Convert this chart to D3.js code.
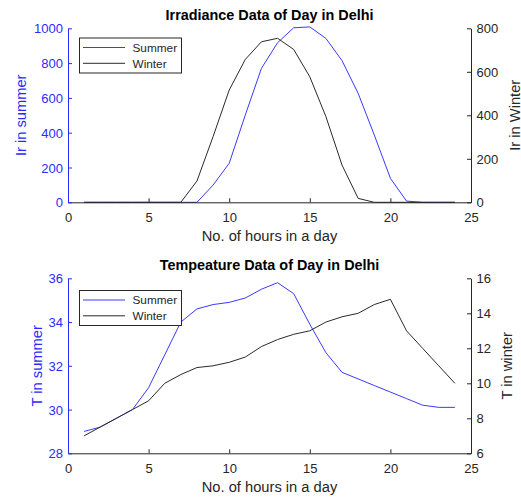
<!DOCTYPE html>
<html>
<head>
<meta charset="utf-8">
<script src="https://cdn.jsdelivr.net/npm/d3@7"></script>
<style>
  html, body { margin: 0; padding: 0; background: #fff; }
  svg { display: block; font-family: "Liberation Sans", Arial, Helvetica, sans-serif; }
</style>
</head>
<body>
<svg id="chart" width="521" height="498"></svg>
<script>
// Hour of day (1..24)
const hours = [1,2,3,4,5,6,7,8,9,10,11,12,13,14,15,16,17,18,19,20,21,22,23,24];

// Solar irradiance in Delhi (W/m²)
const irrSummer = [0,0,0,0,0,0,0,0,99,224,502,770,917,1003,1008,942,814,626,387,138,7,0,0,0];
const irrWinter = [0,0,0,0,0,0,0,98,302,516,657,738,754,703,577,394,171,18,0,0,0,0,0,0];

// Ambient temperature in Delhi (°C)
const tempSummer = [29,29.2,29.6,30,31,32.5,34,34.6,34.8,34.9,35.1,35.5,35.8,35.3,33.9,32.6,31.7,31.4,31.1,30.8,30.5,30.2,30.1,30.1];
const tempWinter = [7,7.5,8,8.5,9,10,10.5,10.9,11,11.2,11.5,12.1,12.5,12.8,13,13.5,13.8,14,14.5,14.8,13,12,11,10];

// Axis ticks
const xTicks = [0,5,10,15,20,25];
const irrSummerTicks = [0,200,400,600,800,1000];
const irrWinterTicks = [0,200,400,600,800];
const tempSummerTicks = [28,30,32,34,36];
const tempWinterTicks = [6,8,10,12,14,16];

const legendLabels = ["Summer", "Winter"];

const BLUE = "#2b2bff";
const LINE_BLUE = "#3a3aff";
const DARK = "#262626";
const LINE_DARK = "#2a2a2a";
const TICK_FONT = 13;
const LABEL_FONT = 14.7;

const svg = d3.select("#chart");
const fmt = d3.format("d");

function panel(cfg) {
  const g = svg.append("g");
  const x = d3.scaleLinear().domain([0, 25]).range([cfg.left, cfg.right]);
  const yL = d3.scaleLinear().domain(cfg.leftDomain).range([cfg.bottom, cfg.top]);
  const yR = d3.scaleLinear().domain(cfg.rightDomain).range([cfg.bottom, cfg.top]);

  // data lines
  const lineL = d3.line().x((d, i) => x(hours[i])).y(d => yL(d));
  const lineR = d3.line().x((d, i) => x(hours[i])).y(d => yR(d));
  g.append("path").datum(cfg.leftData).attr("d", lineL)
    .attr("fill", "none").attr("stroke", LINE_BLUE).attr("stroke-width", 1);
  g.append("path").datum(cfg.rightData).attr("d", lineR)
    .attr("fill", "none").attr("stroke", LINE_DARK).attr("stroke-width", 1);

  // bottom axis
  const xAxis = g.append("g").attr("transform", `translate(0,${cfg.bottom})`)
    .call(d3.axisBottom(x).tickValues(xTicks).tickFormat(fmt)
      .tickSizeInner(-4).tickSizeOuter(0).tickPadding(0));
  xAxis.select(".domain").attr("stroke", DARK);
  xAxis.selectAll(".tick line").attr("stroke", DARK);
  xAxis.selectAll(".tick text").attr("fill", DARK).attr("font-size", TICK_FONT)
    .attr("y", 20).attr("dy", 0);

  // left axis
  const lAxis = g.append("g").attr("transform", `translate(${cfg.left},0)`)
    .call(d3.axisLeft(yL).tickValues(cfg.leftTicks).tickFormat(fmt)
      .tickSizeInner(-4).tickSizeOuter(0).tickPadding(0));
  lAxis.select(".domain").attr("stroke", BLUE);
  lAxis.selectAll(".tick line").attr("stroke", BLUE);
  lAxis.selectAll(".tick text").attr("fill", BLUE).attr("font-size", TICK_FONT)
    .attr("x", -5).attr("dy", "0.36em");

  // right axis
  const rAxis = g.append("g").attr("transform", `translate(${cfg.right},0)`)
    .call(d3.axisRight(yR).tickValues(cfg.rightTicks).tickFormat(fmt)
      .tickSizeInner(-4).tickSizeOuter(0).tickPadding(0));
  rAxis.select(".domain").attr("stroke", DARK);
  rAxis.selectAll(".tick line").attr("stroke", DARK);
  rAxis.selectAll(".tick text").attr("fill", DARK).attr("font-size", TICK_FONT)
    .attr("x", 5.5).attr("dy", "0.36em");

  g.selectAll(".tick text").attr("font-family", null);
  g.selectAll(".domain, .tick line").attr("stroke-width", 1);

  // title
  g.append("text").attr("x", (cfg.left + cfg.right) / 2).attr("y", cfg.top - 8.5)
    .attr("text-anchor", "middle").attr("font-weight", "bold").attr("font-size", 14.4)
    .attr("fill", "#000").text(cfg.title);

  // x label
  g.append("text").attr("x", (cfg.left + cfg.right) / 2).attr("y", cfg.bottom + 39)
    .attr("text-anchor", "middle").attr("font-size", LABEL_FONT).attr("fill", DARK)
    .text("No. of hours in a day");

  const midY = (cfg.top + cfg.bottom) / 2;
  g.append("text").attr("transform", `translate(${cfg.leftLabelX},${midY}) rotate(-90)`)
    .attr("text-anchor", "middle").attr("font-size", LABEL_FONT).attr("fill", BLUE)
    .text(cfg.leftLabel);
  g.append("text").attr("transform", `translate(${cfg.rightLabelX},${midY}) rotate(-90)`)
    .attr("text-anchor", "middle").attr("font-size", LABEL_FONT).attr("fill", DARK)
    .text(cfg.rightLabel);

  // legend
  const lg = g.append("g");
  lg.append("rect").attr("x", 79.5).attr("y", cfg.legendTop + 0.5)
    .attr("width", 102).attr("height", 35)
    .attr("fill", "#fff").attr("stroke", DARK).attr("stroke-width", 1);
  const rows = [cfg.legendTop + 10, cfg.legendTop + 25.8];
  const colors = [LINE_BLUE, LINE_DARK];
  legendLabels.forEach((lab, i) => {
    lg.append("line").attr("x1", 83).attr("x2", 125).attr("y1", rows[i]).attr("y2", rows[i])
      .attr("stroke", colors[i]).attr("stroke-width", 1);
    lg.append("text").attr("x", 132.5).attr("y", rows[i]).attr("dy", "0.36em")
      .attr("font-size", 11.8).attr("fill", DARK).text(lab);
  });
}

panel({
  left: 68, right: 471, top: 28.3, bottom: 202.3,
  leftDomain: [0, 1000], rightDomain: [0, 800],
  leftTicks: irrSummerTicks, rightTicks: irrWinterTicks,
  leftData: irrSummer, rightData: irrWinter,
  title: "Irradiance Data of Day in Delhi",
  leftLabel: "Ir in summer", rightLabel: "Ir in Winter",
  leftLabelX: 25.5, rightLabelX: 519.5,
  legendTop: 37.5
});

panel({
  left: 68, right: 471, top: 278.3, bottom: 453.3,
  leftDomain: [28, 36], rightDomain: [6, 16],
  leftTicks: tempSummerTicks, rightTicks: tempWinterTicks,
  leftData: tempSummer, rightData: tempWinter,
  title: "Tempeature Data of Day in Delhi",
  leftLabel: "T in summer", rightLabel: "T in winter",
  leftLabelX: 41.5, rightLabelX: 512,
  legendTop: 290
});
</script>
</body>
</html>
